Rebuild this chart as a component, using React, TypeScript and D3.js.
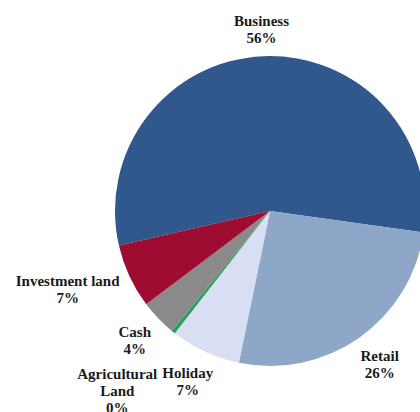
import React, { useEffect, useRef } from "react";
import * as d3 from "d3";

const categories: string[][] = [
  ["Business"],
  ["Retail"],
  ["Holiday"],
  ["Agricultural", "Land"],
  ["Cash"],
  ["Investment land"],
];
const values: number[] = [55.8, 26.0, 7.3, 0.4, 3.8, 6.7];
const colors: string[] = ["#30588c", "#8ea7c8", "#d8def3", "#2a9d5c", "#8a8a8a", "#9e0c31"];

const W = 420;
const H = 412;

export default function App() {
  const ref = useRef<SVGSVGElement | null>(null);

  useEffect(() => {
    document.body.style.margin = "0";
    const svg = d3.select(ref.current);
    svg.selectAll("*").remove();

    const cx = 270;
    const cy = 211;
    const r = 155;
    const start = (-102.9 * Math.PI) / 180;
    const total = d3.sum(values);

    const pie = d3
      .pie<number>()
      .sort(null)
      .value((d) => d)
      .startAngle(start)
      .endAngle(start + 2 * Math.PI);
    const arcs = pie(values);
    const arc = d3.arc<d3.PieArcDatum<number>>().innerRadius(0).outerRadius(r);

    const g = svg.append("g").attr("transform", `translate(${cx},${cy})`);
    g.selectAll("path")
      .data(arcs)
      .join("path")
      .attr("d", arc)
      .attr("fill", (_, i) => colors[i]);

    const fontSize = 15;
    const lh = 17;
    const gap = 16;
    const pad = 4.5;
    const minTop = 13 - cy;

    type Box = { x: number; y: number; w: number; h: number };
    const placed: Box[] = [];
    const overlaps = (a: Box, b: Box) =>
      Math.abs(a.x - b.x) * 2 < a.w + b.w + 2 * pad && Math.abs(a.y - b.y) * 2 < a.h + b.h;

    const order = d3.range(values.length).sort((a, b) => values[b] - values[a]);
    order.forEach((i) => {
      const d = arcs[i];
      const a = (d.startAngle + d.endAngle) / 2;
      const lines = [...categories[i], `${Math.round((values[i] / total) * 100)}%`];
      const t = g
        .append("text")
        .attr("text-anchor", "middle")
        .attr("font-family", "'Times New Roman', 'Liberation Serif', serif")
        .attr("font-weight", "bold")
        .attr("font-size", fontSize)
        .attr("fill", "#1a1a1a");
      lines.forEach((ln) => {
        t.append("tspan").attr("x", 0).text(ln);
      });
      const w = (t.node() as SVGTextElement).getBBox().width;
      const h = lines.length * lh;
      const sx = Math.sin(a);
      const sy = -Math.cos(a);
      let box: Box = {
        x: (r + gap) * sx + (w / 2) * sx,
        y: (r + gap) * sy + (h / 2) * sy,
        w,
        h,
      };
      if (box.y - h / 2 < minTop) box = { ...box, y: minTop + h / 2 };
      let step = 0;
      while (placed.some((p) => overlaps(p, box)) && step < 200) {
        step++;
        box = { ...box, x: box.x + sx, y: box.y + sy };
      }
      placed.push(box);
      const top = box.y - h / 2;
      t.selectAll("tspan")
        .attr("x", box.x)
        .attr("y", (_, k) => top + k * lh + 13);
    });
  }, []);

  return (
    <svg
      ref={ref}
      width={W}
      height={H}
      style={{ position: "absolute", left: 0, top: 0, background: "#fff" }}
    />
  );
}
